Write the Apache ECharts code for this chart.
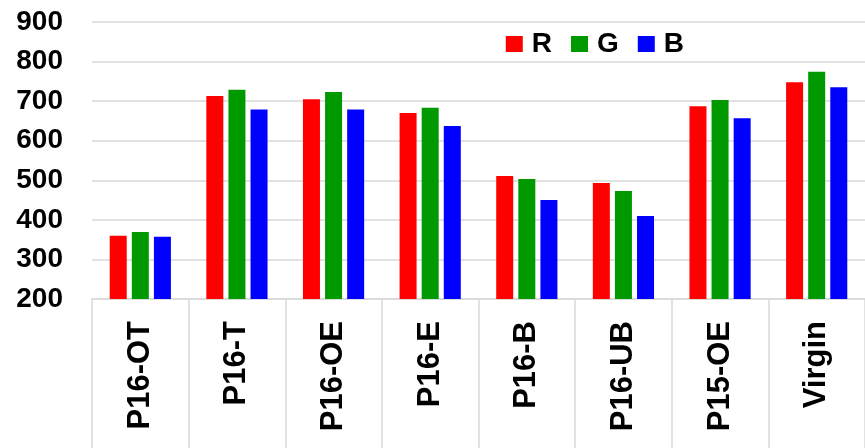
<!DOCTYPE html>
<html>
<head>
<meta charset="utf-8">
<script src="https://cdn.jsdelivr.net/npm/echarts@6/dist/echarts.min.js"></script>
<style>
  html, body { margin: 0; padding: 0; background: #fff; }
  #main { width: 865px; height: 448px; }
</style>
</head>
<body>
<div id="main"></div>
<script>
// categories and values
var categories = ["P16-OT", "P16-T", "P16-OE", "P16-E", "P16-B", "P16-UB", "P15-OE", "Virgin"];
var rValues = [360, 713, 705, 670, 511, 493, 687, 748];
var gValues = [369, 729, 723, 683, 503, 473, 703, 774];
var bValues = [357, 679, 679, 637, 450, 410, 657, 735];
var yTicks = [200, 300, 400, 500, 600, 700, 800, 900];

var font = "'Liberation Sans', Arial, sans-serif";
var chart = echarts.init(document.getElementById("main"));

function bar(name, data, color) {
  return {
    name: name,
    type: "bar",
    data: data,
    barWidth: 17,
    barGap: "30%",
    itemStyle: { color: color }
  };
}

chart.setOption({
  animation: false,
  backgroundColor: "#ffffff",
  textStyle: { fontFamily: font },
  grid: { left: 92, right: 0, top: 22, bottom: 149, containLabel: false },
  legend: {
    right: 176,
    top: 25,
    itemWidth: 17,
    itemHeight: 16,
    itemGap: 19,
    icon: "rect",
    textStyle: {
      fontSize: 28,
      fontWeight: "bold",
      color: "#000",
      fontFamily: font,
      padding: [0, 0, 0, 4]
    },
    data: ["R", "G", "B"]
  },
  xAxis: {
    type: "category",
    data: categories,
    axisLine: { show: true, lineStyle: { color: "#d9d9d9", width: 1.5 } },
    axisTick: { show: true, length: 150, interval: 0, lineStyle: { color: "#d9d9d9", width: 1.5 } },
    axisLabel: {
      interval: 0,
      rotate: 90,
      margin: 22,
      fontSize: 31,
      fontWeight: "bold",
      color: "#000",
      fontFamily: font
    }
  },
  yAxis: {
    type: "value",
    min: yTicks[0],
    max: yTicks[yTicks.length - 1],
    interval: 100,
    axisLine: { show: false },
    axisTick: { show: false },
    splitLine: { lineStyle: { color: "#d9d9d9", width: 1.5 } },
    axisLabel: {
      margin: 29,
      fontSize: 28,
      fontWeight: "bold",
      color: "#000",
      fontFamily: font
    }
  },
  series: [
    bar("R", rValues, "#ff0000"),
    bar("G", gValues, "#009900"),
    bar("B", bValues, "#0000ff")
  ]
});
</script>
</body>
</html>
